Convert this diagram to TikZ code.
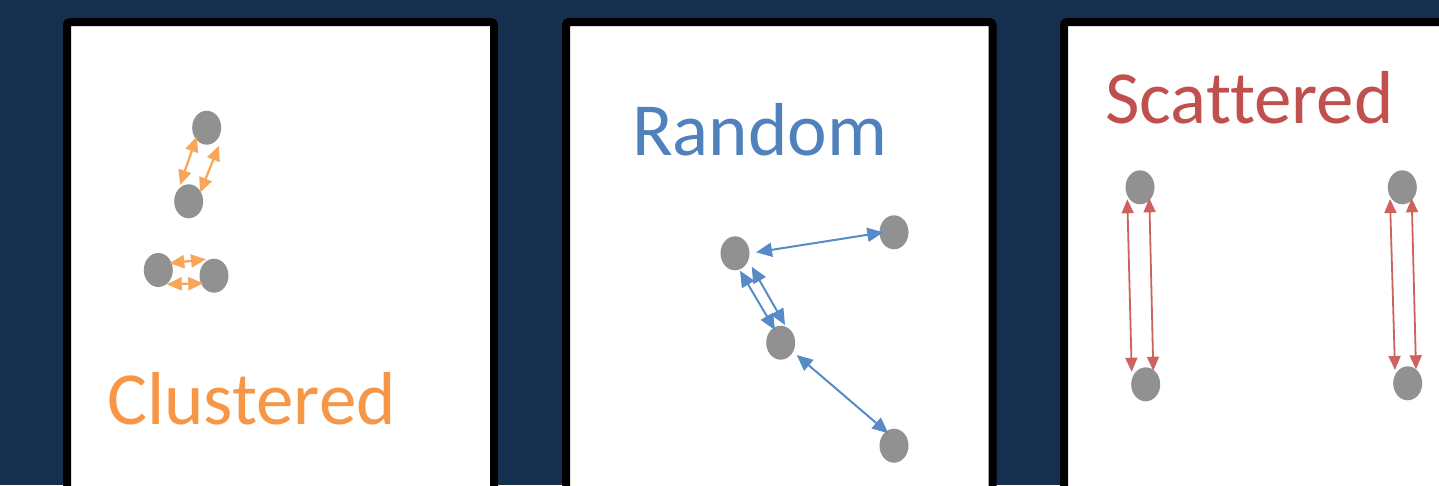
\documentclass[tikz,border=0pt]{standalone}
\usepackage{fontspec}
\setmainfont{Carlito}[Ligatures=NoCommon]
\usetikzlibrary{arrows.meta,calc,shapes.geometric}
\definecolor{navy}{HTML}{15304E}
\definecolor{dotgray}{HTML}{919191}
\definecolor{ctxt}{HTML}{F79646}
\definecolor{carr}{HTML}{F9A55A}
\definecolor{rtxt}{HTML}{4F81BD}
\definecolor{rarr}{HTML}{578BC7}
\definecolor{stxt}{HTML}{C0504D}
\definecolor{sarr}{HTML}{CD625F}
\tikzset{
  panel/.style={draw=black,fill=white,line width=8pt,rounded corners=3pt},
  dot/.style={ellipse,fill=dotgray,minimum width=29pt,minimum height=34pt,inner sep=0pt},
  title/.style={anchor=base west,inner sep=0pt,font=\fontsize{75}{82}\selectfont},
  carrow/.style={draw=carr,line width=2.3pt,{Triangle[length=15pt,width=13pt]}-{Triangle[length=15pt,width=13pt]}},
  rarrow/.style={draw=rarr,line width=2pt,{Triangle[length=16pt,width=14pt]}-{Triangle[length=16pt,width=14pt]}},
  sarrow/.style={draw=sarr,line width=1.8pt,{Triangle[length=14pt,width=12pt]}-{Triangle[length=14pt,width=12pt]}},
}
\begin{document}
\begin{tikzpicture}[x=1pt,y=-1pt]
\useasboundingbox (0,0) rectangle (1439,485);
\clip (0,0) rectangle (1439,485);
\fill[navy] (0,0) rectangle (1439,485);

% three panels, running off the lower edge
\draw[panel] (67,22) rectangle (494,540);
\draw[panel] (566,22) rectangle (992.5,540);
\draw[panel] (1064,22) rectangle (1500,540);

% clustered
\node[dot] (c1) at (206.7,127.7) {};
\node[dot] (c2) at (188.7,201.3) {};
\node[dot] (c3) at (158.3,270) {};
\node[dot] (c4) at (214,275.7) {};
\draw[carrow] ($(c1)+(-10,9)$) -- ($(c2)+(-8.7,-16.3)$);
\draw[carrow] ($(c1)+(12.3,18)$) -- ($(c2)+(11.3,-8.6)$);
\draw[carrow] ($(c3)+(11,-6.7)$) -- ($(c4)+(-8,-16.4)$);
\draw[carrow] ($(c3)+(8.4,14.3)$) -- ($(c4)+(-10.7,7.6)$);
\node[title,text=ctxt] (ct) at (107,424) {Clustered};

% random
\node[title,text=rtxt] (rt) at (632,155) {Random};
\node[dot] (r1) at (735,253.3) {};
\node[dot] (r2) at (894,232.3) {};
\node[dot] (r3) at (780.7,342.7) {};
\node[dot] (r4) at (894,445.7) {};
\draw[rarrow] ($(r1)+(21,-1)$) -- ($(r2)+(-10.7,0)$);
\draw[rarrow] ($(r1)+(5,17.4)$) -- ($(r3)+(-5.7,-12.7)$);
\draw[rarrow] ($(r1)+(16.7,13.4)$) -- ($(r3)+(4.3,-17.7)$);
\draw[rarrow] ($(r3)+(16,12.3)$) -- ($(r4)+(-5.7,-12.4)$);

% scattered
\node[title,text=stxt] (st) at (1105,123) {Scattered};
\node[dot] (s1) at (1140,187.3) {};
\node[dot] (s2) at (1145.7,384.3) {};
\node[dot] (s3) at (1402.3,187.3) {};
\node[dot] (s4) at (1407.7,383.3) {};
\draw[sarrow] ($(s1)+(-12.7,12)$) -- ($(s2)+(-14,-12.6)$);
\draw[sarrow] ($(s1)+(9.3,11)$) -- ($(s2)+(7.6,-13.6)$);
\draw[sarrow] ($(s3)+(-12.3,11.7)$) -- ($(s4)+(-12.7,-13.3)$);
\draw[sarrow] ($(s3)+(9.4,11)$) -- ($(s4)+(8.3,-14)$);
\end{tikzpicture}
\end{document}
